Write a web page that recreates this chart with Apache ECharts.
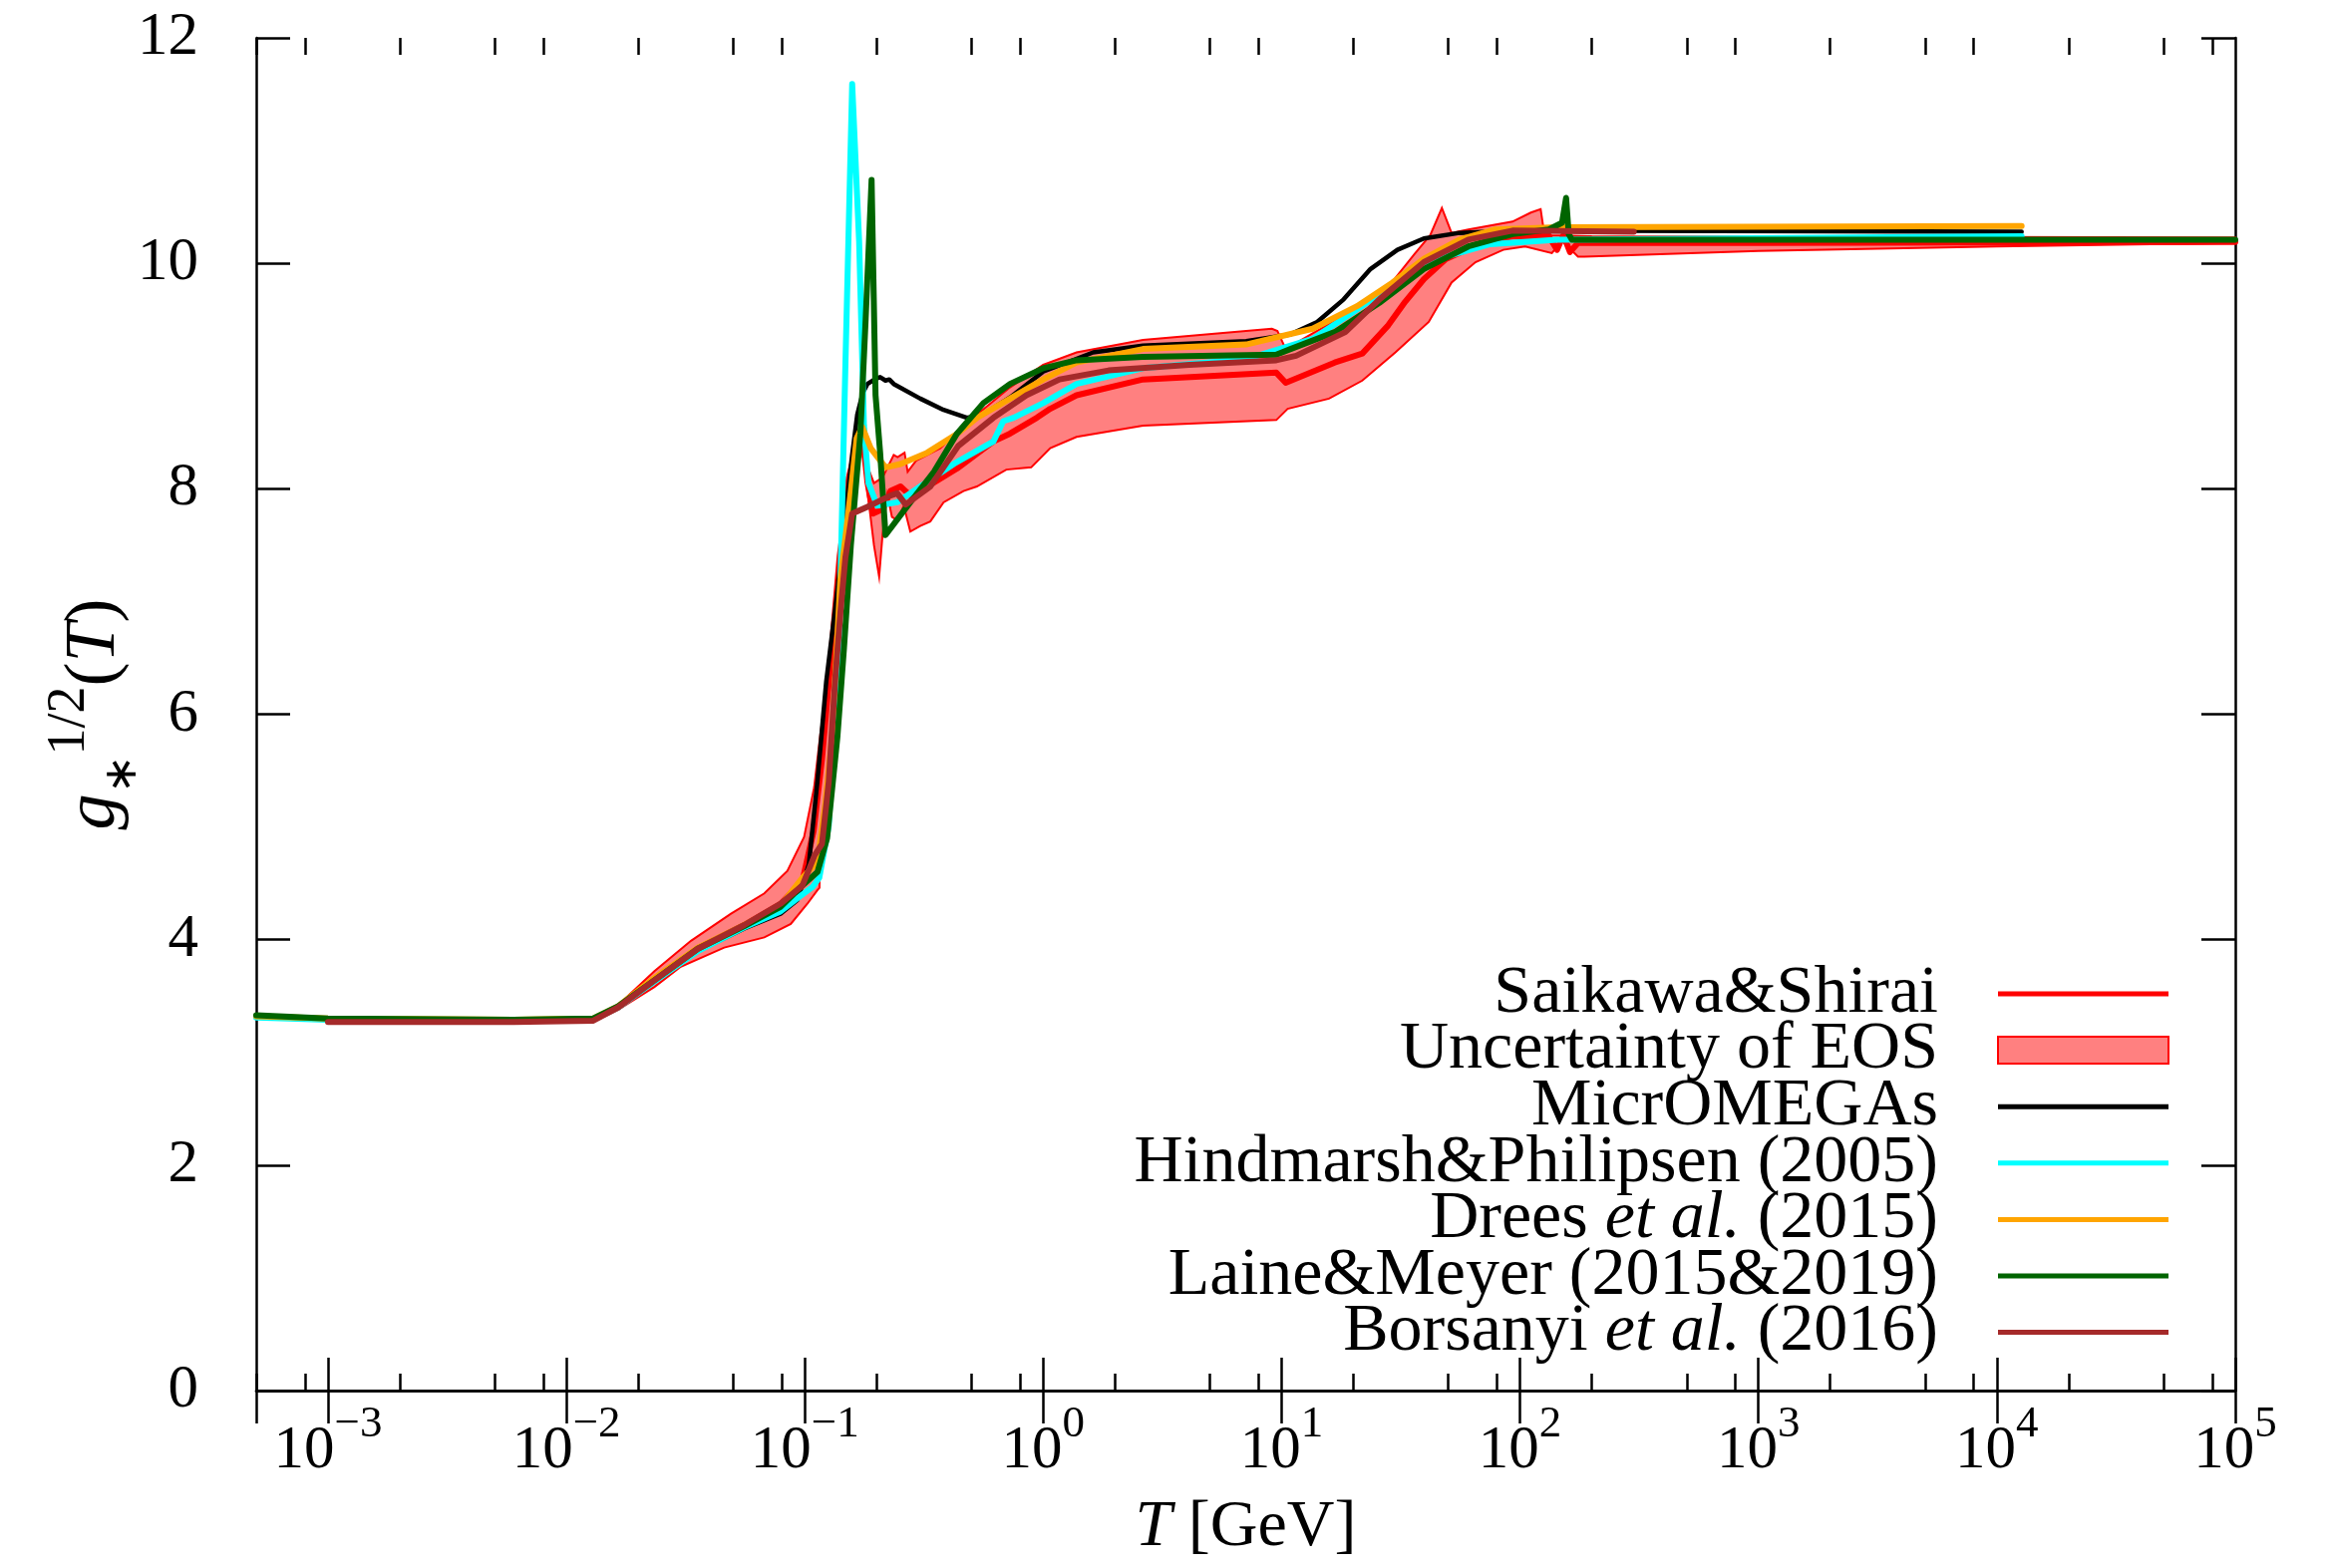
<!DOCTYPE html>
<html>
<head>
<meta charset="utf-8">
<script src="https://cdn.jsdelivr.net/npm/echarts@6/dist/echarts.min.js"></script>
<style>
  html, body { margin: 0; padding: 0; background: #fff; }
  #chart { width: 2337px; height: 1573px; }
</style>
</head>
<body>
<div id="chart"></div>
<script>
// [T in GeV, g_*^{1/2}]
const saikawa = [
  [1e-3, 3.28], [3e-3, 3.275], [0.006, 3.28], [0.0129, 3.29], [0.0165, 3.40], [0.0234, 3.64],
  [0.0356, 3.92], [0.0557, 4.13], [0.0793, 4.32], [0.0977, 4.52], [0.109, 4.97], [0.118, 5.6],
  [0.128, 6.44], [0.14, 7.4], [0.155, 8.1], [0.165, 8.4], [0.174, 8.5], [0.183, 8.06], [0.193, 7.78],
  [0.212, 7.82], [0.229, 7.98], [0.252, 8.02], [0.277, 7.94], [0.315, 8.0], [0.435, 8.18],
  [0.618, 8.42], [0.726, 8.49], [0.94, 8.63], [1.07, 8.71], [1.38, 8.83], [2.62, 8.97], [5, 9.0],
  [9.5, 9.03], [10.4, 8.94], [16.7, 9.12], [21.8, 9.2], [28, 9.45], [33, 9.66], [39.5, 9.86],
  [49, 10.04], [69, 10.18], [93, 10.24], [132, 10.24], [143, 10.12], [152, 10.25], [162, 10.1],
  [175, 10.18], [1000, 10.18], [1e5, 10.19]
];
const bandUpper = [
  [1e-3, 3.30], [0.0129, 3.31], [0.0165, 3.42], [0.0234, 3.72], [0.0333, 3.99], [0.049, 4.23],
  [0.0676, 4.41], [0.0845, 4.61], [0.0993, 4.91], [0.1094, 5.35], [0.1166, 5.85], [0.1185, 5.95],
  [0.13, 6.6], [0.14, 7.5], [0.15, 8.1], [0.165, 8.45], [0.174, 8.52], [0.183, 8.2], [0.195, 8.05],
  [0.212, 8.1], [0.236, 8.3], [0.245, 8.28], [0.262, 8.32], [0.27, 8.15], [0.293, 8.25], [0.37, 8.36],
  [0.463, 8.56], [0.726, 8.9], [1.0, 9.1], [1.38, 9.21], [2.62, 9.32], [9.1, 9.42], [9.6, 9.4],
  [10.4, 9.24], [13.5, 9.38], [20.7, 9.6], [29.2, 9.84], [36, 10.08], [42, 10.25], [47, 10.49],
  [51.6, 10.27], [60.7, 10.3], [93, 10.37], [111, 10.45], [122, 10.48], [125, 10.33], [135, 10.25],
  [200, 10.24], [1e5, 10.23]
];
const bandLower = [
  [1e-3, 3.26], [0.0129, 3.27], [0.0165, 3.38], [0.0234, 3.58], [0.0302, 3.76], [0.0459, 3.93],
  [0.0676, 4.02], [0.0873, 4.14], [0.1026, 4.32], [0.113, 4.44], [0.1152, 4.46], [0.1158, 4.82],
  [0.126, 5.0], [0.139, 6.5], [0.15, 7.5], [0.16, 8.0], [0.167, 8.3], [0.174, 8.35], [0.185, 7.9],
  [0.195, 7.5], [0.205, 7.22], [0.212, 7.6], [0.222, 7.95], [0.232, 7.75], [0.245, 7.72], [0.26, 7.85],
  [0.277, 7.62], [0.305, 7.67], [0.336, 7.71], [0.382, 7.88], [0.463, 7.98], [0.527, 8.02], [0.7, 8.17],
  [0.89, 8.19], [1.07, 8.36], [1.38, 8.46], [2.62, 8.56], [9.5, 8.61], [10.6, 8.71], [15.8, 8.8],
  [21.8, 8.96], [30, 9.21], [41.4, 9.48], [51.6, 9.83], [65, 10.01], [85, 10.12], [105, 10.15],
  [136, 10.09], [150, 10.2], [175, 10.06], [186, 10.06], [1000, 10.11], [1e4, 10.15], [1e5, 10.18]
];
const micromegas = [
  [5e-4, 3.31], [1e-3, 3.29], [0.006, 3.28], [0.0129, 3.29], [0.0165, 3.40], [0.0234, 3.63],
  [0.0356, 3.9], [0.0557, 4.1], [0.079, 4.23], [0.093, 4.35], [0.104, 4.67], [0.113, 5.41],
  [0.123, 6.29], [0.137, 7.1], [0.148, 7.78], [0.158, 8.3], [0.166, 8.66], [0.175, 8.85],
  [0.183, 8.93], [0.2, 8.98], [0.207, 8.99], [0.218, 8.96], [0.226, 8.97], [0.236, 8.93],
  [0.305, 8.8], [0.382, 8.7], [0.479, 8.63], [0.561, 8.66], [0.726, 8.81], [1.0, 9.04],
  [1.62, 9.21], [2.62, 9.27], [7.1, 9.31], [10.9, 9.37], [14.1, 9.48], [18.2, 9.68], [23.6, 9.95],
  [30.6, 10.12], [39.5, 10.22], [55.7, 10.27], [93, 10.29], [12700, 10.28]
];
const hindmarsh = [
  [5e-4, 3.31], [1e-3, 3.29], [0.006, 3.28], [0.0129, 3.29], [0.0165, 3.40], [0.0234, 3.63],
  [0.0356, 3.9], [0.0557, 4.11], [0.079, 4.25], [0.0977, 4.4], [0.108, 4.47], [0.115, 4.55],
  [0.126, 5.01], [0.132, 5.8], [0.139, 6.6], [0.148, 9.1], [0.158, 11.59], [0.169, 10.19],
  [0.177, 8.56], [0.185, 8.05], [0.201, 7.85], [0.244, 7.88], [0.305, 8.02], [0.421, 8.22],
  [0.618, 8.42], [0.68, 8.6], [0.75, 8.63], [1.0, 8.76], [1.38, 8.93], [2.62, 9.07], [7.1, 9.15],
  [13.5, 9.33], [20.7, 9.59], [31.9, 9.86], [49, 10.06], [75, 10.17], [143, 10.21], [12700, 10.24]
];
const drees = [
  [5e-4, 3.32], [1e-3, 3.3], [0.006, 3.29], [0.0129, 3.3], [0.0165, 3.41], [0.0234, 3.66],
  [0.0356, 3.93], [0.0557, 4.13], [0.079, 4.3], [0.0977, 4.55], [0.113, 4.69], [0.122, 5.2],
  [0.13, 5.8], [0.141, 7.19], [0.156, 7.98], [0.165, 8.45], [0.174, 8.55], [0.189, 8.36],
  [0.218, 8.19], [0.252, 8.22], [0.326, 8.32], [0.43, 8.48], [0.527, 8.63], [0.726, 8.8],
  [1.0, 8.97], [1.38, 9.12], [2.62, 9.24], [7.1, 9.28], [13.5, 9.42], [20.7, 9.62], [29.2, 9.83],
  [39.5, 10.04], [55.7, 10.21], [78.7, 10.3], [143, 10.32], [12700, 10.33]
];
const laine = [
  [5e-4, 3.33], [1e-3, 3.3], [0.006, 3.29], [0.0129, 3.3], [0.0165, 3.41], [0.0234, 3.64],
  [0.0356, 3.92], [0.0557, 4.12], [0.079, 4.29], [0.0977, 4.48], [0.113, 4.6], [0.124, 4.9],
  [0.137, 5.8], [0.146, 6.59], [0.156, 7.5], [0.171, 8.49], [0.18, 9.51], [0.1906, 10.74],
  [0.198, 8.83], [0.207, 8.32], [0.218, 7.59], [0.277, 7.88], [0.348, 8.15], [0.435, 8.49],
  [0.561, 8.76], [0.726, 8.93], [1.0, 9.07], [1.38, 9.14], [2.62, 9.17], [9.5, 9.19], [10.9, 9.24],
  [16.7, 9.39], [25.7, 9.65], [39.5, 9.95], [60.7, 10.15], [93, 10.26], [132, 10.3], [150, 10.36],
  [156, 10.58], [160, 10.26], [165, 10.21], [1e5, 10.21]
];
const borsanyi = [
  [1e-3, 3.27], [0.006, 3.27], [0.0129, 3.28], [0.0165, 3.4], [0.0234, 3.64], [0.0356, 3.92],
  [0.0557, 4.13], [0.0793, 4.32], [0.0977, 4.48], [0.11, 4.75], [0.118, 4.85], [0.126, 5.4],
  [0.134, 6.3], [0.141, 6.9], [0.148, 7.39], [0.158, 7.78], [0.183, 7.84], [0.229, 7.94],
  [0.244, 7.96], [0.265, 7.86], [0.336, 8.02], [0.44, 8.38], [0.618, 8.63], [0.85, 8.83],
  [1.17, 8.97], [1.88, 9.05], [4.1, 9.1], [9.5, 9.14], [11.5, 9.18], [18.5, 9.39], [25.7, 9.68],
  [39.5, 10.01], [60.7, 10.21], [93, 10.29], [300, 10.28]
];

const legendNames = ['Saikawa&Shirai', 'Uncertainty of EOS', 'MicrOMEGAs', 'Hindmarsh&Philipsen (2005)',
  'Drees et al. (2015)', 'Laine&Meyer (2015&2019)', 'Borsanyi et al. (2016)'];
const minorTicks = [];
[-4, -3, -2, -1, 0, 1, 2, 3, 4].forEach(function (e) {
  [2, 5, 8].forEach(function (m) { minorTicks.push(m * Math.pow(10, e)); });
});

const FONT = 'Liberation Serif';
const black = '#000';

function logLabel (v) {
  const e = Math.round(Math.log10(v));
  if (Math.abs(v / Math.pow(10, e) - 1) > 1e-6) return '';
  return '{b|10}{e|' + (e < 0 ? '\u2212' + (-e) : e) + '}';
}

function xAxis (pos, minor) {
  return {
    type: 'log', logBase: 10, min: 5e-4, max: 1e5, position: pos,
    axisLine: { show: !minor, lineStyle: { color: black, width: 2.5 } },
    axisTick: minor
      ? { show: true, inside: true, length: 17, customValues: minorTicks, lineStyle: { color: black, width: 2.5 } }
      : { show: true, inside: true, length: 33, lineStyle: { color: black, width: 2.5 } },
    axisLabel: (pos === 'bottom' && !minor) ? {
      show: true, margin: 12, showMinLabel: false, formatter: logLabel,
      rich: {
        b: { fontFamily: FONT, fontSize: 61, color: black, lineHeight: 79, verticalAlign: 'bottom' },
        e: { fontFamily: FONT, fontSize: 45, color: black, lineHeight: 30, verticalAlign: 'top' }
      }
    } : { show: false },
    splitLine: { show: false },
    name: (pos === 'bottom' && !minor) ? '{it|T}{n| [GeV]}' : '',
    nameLocation: 'middle', nameGap: 105, nameMoveOverlap: false,
    nameTextStyle: {
      rich: {
        it: { fontFamily: FONT, fontSize: 66, fontStyle: 'italic', color: black },
        n: { fontFamily: FONT, fontSize: 66, color: black }
      }
    }
  };
}

function yAxis (pos) {
  return {
    type: 'value', min: 0, max: 12, interval: 2, position: pos,
    axisLine: { show: true, lineStyle: { color: black, width: 2.5 } },
    axisTick: { show: true, inside: true, length: 34, lineStyle: { color: black, width: 2.5 } },
    axisLabel: pos === 'left'
      ? { show: true, margin: 58, fontFamily: FONT, fontSize: 61, color: black }
      : { show: false },
    splitLine: { show: false },
    name: pos === 'left' ? '{gi|g}{s|\u2217}{p|1/2}{n|(}{gi|T}{n|)}' : '',
    nameLocation: 'middle', nameRotate: 90, nameGap: 110, nameMoveOverlap: false,
    nameTextStyle: {
      rich: {
        gi: { fontFamily: FONT, fontSize: 72, fontStyle: 'italic', color: black, lineHeight: 104, verticalAlign: 'middle' },
        n: { fontFamily: FONT, fontSize: 72, color: black, lineHeight: 104, verticalAlign: 'middle' },
        p: { fontFamily: FONT, fontSize: 54, color: black, lineHeight: 40, verticalAlign: 'top' },
        s: { fontFamily: FONT, fontSize: 46, color: black, lineHeight: 64, verticalAlign: 'bottom' }
      }
    }
  };
}

function line (name, data, color, width) {
  return {
    type: 'line', name: name, data: data, xAxisIndex: 0, yAxisIndex: 0,
    symbol: 'none', showSymbol: false, smooth: false, clip: true,
    lineStyle: { color: color, width: width, cap: 'round', join: 'round' },
    itemStyle: { color: color }
  };
}

const legendText = {
  'Drees et al. (2015)': '{n|Drees }{i|et al.}{n| (2015)}',
  'Borsanyi et al. (2016)': '{n|Borsanyi }{i|et al.}{n| (2016)}'
};

const chart = echarts.init(document.getElementById('chart'));
chart.setOption({
  animation: false,
  backgroundColor: '#fff',
  grid: { left: 257, right: 95, top: 38, bottom: 178 },
  xAxis: [xAxis('bottom', false), xAxis('top', false), xAxis('bottom', true), xAxis('top', true)],
  yAxis: [yAxis('left'), yAxis('right')],
  legend: {
    orient: 'vertical', align: 'right', right: 161, top: 963, padding: 0,
    itemGap: -11.4, itemWidth: 171, itemHeight: 27, selectedMode: false, symbolKeepAspect: true,
    textStyle: {
      fontFamily: FONT, fontSize: 68, color: black, padding: [0, 55, 0, 0],
      rich: {
        n: { fontFamily: FONT, fontSize: 68, color: black },
        i: { fontFamily: FONT, fontSize: 68, fontStyle: 'italic', color: black }
      }
    },
    formatter: function (name) { return legendText[name] || '{n|' + name + '}'; },
    data: legendNames.map(function (n) {
      if (n === 'Uncertainty of EOS') {
        return { name: n, icon: 'rect', itemStyle: { color: '#ff8080', borderColor: '#ff0000', borderWidth: 2 } };
      }
      return { name: n, icon: 'path://M0 0H171V5H0Z' };
    })
  },
  series: [
    {
      type: 'custom', name: 'Uncertainty of EOS', xAxisIndex: 0, yAxisIndex: 0,
      data: [bandUpper[0]], silent: true,
      itemStyle: { color: '#ff8080', borderColor: '#ff0000', borderWidth: 2 },
      renderItem: function (params, api) {
        if (params.dataIndex !== 0) return;
        const pts = bandUpper.concat(bandLower.slice().reverse()).map(function (p) { return api.coord(p); });
        return {
          type: 'polygon', shape: { points: pts },
          style: { fill: '#ff8080', stroke: '#ff0000', lineWidth: 2 }
        };
      }
    },
    line('Saikawa&Shirai', saikawa, '#ff0000', 6),
    line('MicrOMEGAs', micromegas, '#000000', 4.5),
    line('Hindmarsh&Philipsen (2005)', hindmarsh, '#00ffff', 6),
    line('Drees et al. (2015)', drees, '#ffa500', 6),
    line('Laine&Meyer (2015&2019)', laine, '#006400', 6),
    line('Borsanyi et al. (2016)', borsanyi, '#a52a2a', 6)
  ]
});
window.addEventListener('resize', function () { chart.resize(); });
</script>
</body>
</html>
